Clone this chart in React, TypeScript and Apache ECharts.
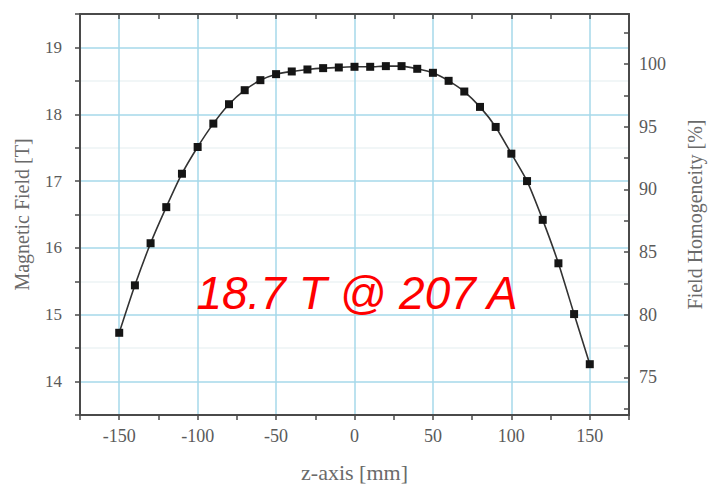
import React, { useEffect, useRef } from "react";
import * as echarts from "echarts";

const zPositions = [
  -150, -140, -130, -120, -110, -100, -90, -80, -70, -60, -50, -40, -30, -20, -10,
  0, 10, 20, 30, 40, 50, 60, 70, 80, 90, 100, 110, 120, 130, 140, 150,
];
const fieldValues = [
  14.73, 15.44, 16.07, 16.61, 17.11, 17.51, 17.86, 18.15, 18.36, 18.51, 18.6, 18.64, 18.67, 18.69, 18.7,
  18.71, 18.71, 18.72, 18.72, 18.68, 18.62, 18.5, 18.34, 18.11, 17.81, 17.41, 17.0, 16.42, 15.77, 15.01, 14.26,
];
const homogeneityLabels = [75, 80, 85, 90, 95, 100];
const homogeneityTicks = [72.5, 75, 77.5, 80, 82.5, 85, 87.5, 90, 92.5, 95, 97.5, 100, 102.5];
const annotation = "18.7 T @ 207 A";

const SERIF = "'Liberation Serif', 'DejaVu Serif', serif";
const GRID_BLUE = "#a6d8ea";
const AXIS_COLOR = "#4a4a4a";
const LABEL_COLOR = "#5a5a5a";
const NAME_COLOR = "#6a6a6a";

export default function App() {
  const ref = useRef<HTMLDivElement>(null);
  useEffect(() => {
    if (!ref.current) return;
    document.body.style.margin = "0";
    const chart = echarts.init(ref.current, undefined, { renderer: "svg" });
    const axisLine = { show: true, onZero: false, lineStyle: { color: AXIS_COLOR, width: 2 } };
    chart.setOption({
      animation: false,
      backgroundColor: "#ffffff",
      grid: { left: 80, right: 83, top: 14, bottom: 70 },
      xAxis: [
        {
          type: "value",
          position: "bottom",
          min: -175,
          max: 175,
          interval: 25,
          name: "z-axis [mm]",
          nameLocation: "middle",
          nameGap: 46,
          nameTextStyle: { fontFamily: SERIF, fontSize: 22, color: NAME_COLOR },
          axisLine,
          axisTick: { show: true, inside: false, length: 5, lineStyle: { color: AXIS_COLOR, width: 1.5 } },
          axisLabel: {
            margin: 12,
            fontFamily: SERIF,
            fontSize: 18,
            color: LABEL_COLOR,
            formatter: (v: number) => (v % 50 === 0 ? String(v) : ""),
          },
          splitLine: {
            show: true,
            lineStyle: { color: ["rgba(0,0,0,0)", GRID_BLUE], width: 1.5 },
          },
        },
        {
          type: "value",
          position: "top",
          min: -175,
          max: 175,
          interval: 25,
          axisLine,
          axisTick: { show: true, inside: true, length: 5, lineStyle: { color: AXIS_COLOR, width: 1.5 } },
          axisLabel: { show: false },
          splitLine: { show: false },
        },
      ],
      yAxis: [
        {
          type: "value",
          position: "left",
          min: 13.5,
          max: 19.5,
          interval: 0.5,
          name: "Magnetic Field [T]",
          nameLocation: "middle",
          nameRotate: 90,
          nameGap: 48,
          nameTextStyle: { fontFamily: SERIF, fontSize: 20, color: NAME_COLOR },
          axisLine,
          axisTick: { show: true, inside: false, length: 5, lineStyle: { color: AXIS_COLOR, width: 1.5 } },
          axisLabel: {
            margin: 18,
            fontFamily: SERIF,
            fontSize: 17,
            color: LABEL_COLOR,
            formatter: (v: number) => (Math.abs(v % 1) < 1e-9 ? String(v) : ""),
          },
          splitLine: {
            show: true,
            lineStyle: { color: ["#edf3f5", GRID_BLUE], width: 1.5 },
          },
        },
        {
          type: "value",
          position: "right",
          min: 72,
          max: 104,
          name: "Field Homogeneity [%]",
          nameLocation: "middle",
          nameRotate: 90,
          nameGap: 56,
          nameTextStyle: { fontFamily: SERIF, fontSize: 20, color: NAME_COLOR },
          axisLine,
          axisTick: {
            show: true,
            inside: true,
            length: 5,
            customValues: homogeneityTicks,
            lineStyle: { color: AXIS_COLOR, width: 1.5 },
          },
          axisLabel: {
            margin: 10,
            fontFamily: SERIF,
            fontSize: 18,
            color: LABEL_COLOR,
            customValues: homogeneityLabels,
          },
          splitLine: { show: false },
        },
      ],
      series: [
        {
          type: "line",
          xAxisIndex: 0,
          yAxisIndex: 0,
          data: zPositions.map((z, i) => [z, fieldValues[i]]),
          smooth: 0.2,
          symbol: "rect",
          symbolSize: 8,
          lineStyle: { color: "#333333", width: 1.6 },
          itemStyle: { color: "#151515" },
          z: 5,
        },
      ],
      graphic: [
        {
          type: "text",
          x: 357,
          y: 293,
          z: 10,
          style: {
            text: annotation,
            fontFamily: "'Liberation Sans', Arial, sans-serif",
            fontStyle: "italic",
            fontSize: 46,
            fill: "#ff0000",
            textAlign: "center",
            textVerticalAlign: "middle",
          },
        },
      ],
    });
    return () => chart.dispose();
  }, []);
  return <div ref={ref} style={{ width: 713, height: 488 }} />;
}
